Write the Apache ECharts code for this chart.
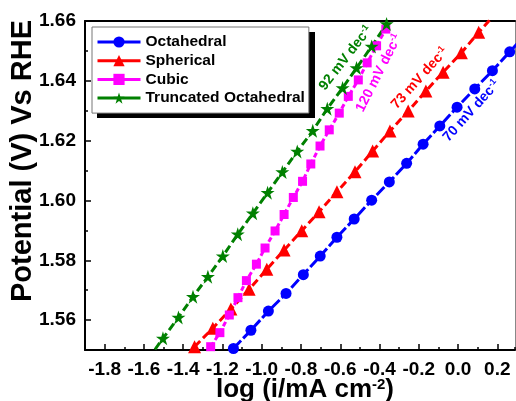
<!DOCTYPE html>
<html>
<head>
<meta charset="utf-8">
<script src="https://cdn.jsdelivr.net/npm/echarts@6/dist/echarts.min.js"></script>
<style>
  html, body { margin: 0; padding: 0; background: #fff; }
  #chart { width: 516px; height: 401px; }
</style>
</head>
<body>
<div id="chart"></div>
<script>
// Tafel plots, values (log i, potential in V)
const octX = [-1.144, -1.055, -0.966, -0.876, -0.788, -0.702, -0.617, -0.529, -0.440, -0.350, -0.262, -0.178, -0.093, -0.005, 0.085, 0.175, 0.263, 0.352]
const octY = [1.5505, 1.5566, 1.5630, 1.5689, 1.5752, 1.5814, 1.5877, 1.5938, 1.6001, 1.6062, 1.6124, 1.6188, 1.6249, 1.6312, 1.6373, 1.6434, 1.6497, 1.6560]

const sphX = [-1.342, -1.249, -1.157, -1.064, -0.974, -0.886, -0.796, -0.708, -0.617, -0.525, -0.435, -0.347, -0.254, -0.164, -0.076, 0.017, 0.105, 0.195]
const sphY = [1.5511, 1.5573, 1.5637, 1.5703, 1.5770, 1.5834, 1.5899, 1.5962, 1.6029, 1.6096, 1.6165, 1.6232, 1.6299, 1.6366, 1.6429, 1.6494, 1.6562, 1.6628]

const cubX = [-1.260, -1.213, -1.165, -1.121, -1.078, -1.027, -0.983, -0.932, -0.886, -0.839, -0.792, -0.750, -0.703, -0.656, -0.605, -0.559, -0.508, -0.463, -0.415, -0.368]
const cubY = [1.5511, 1.5558, 1.5617, 1.5675, 1.5732, 1.5787, 1.5841, 1.5898, 1.5953, 1.6010, 1.6064, 1.6122, 1.6182, 1.6236, 1.6292, 1.6348, 1.6403, 1.6460, 1.6517, 1.6573]

const truX = [-1.579, -1.503, -1.424, -1.350, -1.274, -1.198, -1.122, -1.045, -0.970, -0.895, -0.819, -0.740, -0.666, -0.588, -0.517, -0.440, -0.364]
const truY = [1.5469, 1.5539, 1.5609, 1.5678, 1.5745, 1.5814, 1.5887, 1.5957, 1.6026, 1.6095, 1.6164, 1.6233, 1.6307, 1.6376, 1.6443, 1.6515, 1.6590]

const seriesNames = ['Octahedral', 'Spherical', 'Cubic', 'Truncated Octahedral']

// tick labels
const xTicks = [-1.8, -1.6, -1.4, -1.2, -1.0, -0.8, -0.6, -0.4, -0.2, 0.0, 0.2]
const yTicks = [1.56, 1.58, 1.60, 1.62, 1.64, 1.66]

// slope notes: [value, x, y, angle, series index]
const slopeNotes = [
  ['92', -0.572, 1.6476, 52, 3],
  ['120', -0.403, 1.6426, 63, 2],
  ['73', -0.195, 1.6409, 48, 1],
  ['70', 0.068, 1.6299, 48, 0]
]

const colors = ['#0000FF', '#FF0000', '#FF00FF', '#008000']
const FONT = '"Liberation Sans", Arial, sans-serif'
const starPath = 'path://M50,0 L62,36 L100,36 L69,58 L81,95 L50,72 L19,95 L31,58 L0,36 L38,36 Z'

const zip = (xs, ys) => xs.map((x, i) => [x, ys[i]])

const lineSeries = (name, data, color, symbol, size, dash) => ({
  name,
  type: 'line',
  data,
  clip: true,
  symbol,
  symbolSize: size,
  color,
  itemStyle: { color },
  lineStyle: { color, width: 3, type: dash },
  emphasis: { disabled: true },
  z: 3
})

const chart = echarts.init(document.getElementById('chart'), null, { renderer: 'canvas' })

const xBase = { type: 'value', min: -1.9, max: 0.29, splitLine: { show: false } }
const yBase = { type: 'value', min: 1.55, max: 1.66, splitLine: { show: false } }
const tickFont = { color: '#000', fontFamily: FONT, fontWeight: 'bold', fontSize: 19 }
const noLine = { show: false, onZero: false }

chart.setOption({
  animation: false,
  backgroundColor: '#fff',
  grid: { left: 85, right: 1, top: 21, bottom: 51, containLabel: false, outerBoundsMode: 'none' },
  legend: {
    orient: 'vertical',
    left: 92,
    top: 27,
    data: seriesNames,
    itemWidth: 43,
    itemHeight: 14,
    itemGap: 2.7,
    padding: [7, 4, 7, 4],
    backgroundColor: '#fff',
    borderColor: '#777',
    borderWidth: 1,
    z: 5,
    lineStyle: { type: 'solid', width: 3 },
    textStyle: { color: '#000', fontFamily: FONT, fontWeight: 'bold', fontSize: 15.5, lineHeight: 14 }
  },
  xAxis: [
    {
      ...xBase,
      position: 'bottom',
      axisLine: { show: true, onZero: false, lineStyle: { color: '#000', width: 2 } },
      axisTick: { show: true, inside: true, length: 6, lineStyle: { color: '#000', width: 1.5 }, customValues: xTicks },
      axisLabel: { ...tickFont, margin: 10, customValues: xTicks, formatter: v => v.toFixed(1) },
      name: 'log (i/mA cm{sup|-2})',
      nameLocation: 'middle',
      nameMoveOverlap: false,
      nameGap: 27,
      nameTextStyle: {
        color: '#000', fontFamily: FONT, fontWeight: 'bold', fontSize: 26, verticalAlign: 'top', padding: [0, 0, 0, 10],
        rich: { sup: { color: '#000', fontFamily: FONT, fontWeight: 'bold', fontSize: 15, verticalAlign: 'top' } }
      }
    },
    {
      ...xBase,
      position: 'bottom',
      interval: 0.1,
      axisLine: noLine,
      axisTick: { show: true, inside: true, length: 3, lineStyle: { color: '#000', width: 1.5 } },
      axisLabel: { show: false }
    },
    {
      ...xBase,
      position: 'top',
      axisLine: { show: true, onZero: false, lineStyle: { color: '#000', width: 2 } },
      axisTick: { show: false },
      axisLabel: { show: false }
    }
  ],
  yAxis: [
    {
      ...yBase,
      position: 'left',
      axisLine: { show: true, onZero: false, lineStyle: { color: '#000', width: 2 } },
      axisTick: { show: true, inside: true, length: 6, lineStyle: { color: '#000', width: 1.5 }, customValues: yTicks },
      axisLabel: { ...tickFont, margin: 9, customValues: yTicks, formatter: v => v.toFixed(2) },
      name: 'Potential (V) Vs RHE',
      nameLocation: 'middle',
      nameMoveOverlap: false,
      nameGap: 48,
      nameTextStyle: { color: '#000', fontFamily: FONT, fontWeight: 'bold', fontSize: 29, padding: [0, 0, 0, 49] }
    },
    {
      ...yBase,
      position: 'left',
      interval: 0.01,
      axisLine: noLine,
      axisTick: { show: true, inside: true, length: 3, lineStyle: { color: '#000', width: 1.5 } },
      axisLabel: { show: false }
    },
    {
      ...yBase,
      position: 'right',
      axisLine: { show: true, onZero: false, lineStyle: { color: '#888', width: 1 } },
      axisTick: { show: false },
      axisLabel: { show: false }
    }
  ],
  series: [
    lineSeries(seriesNames[0], zip(octX, octY), colors[0], 'circle', 11, [11, 3]),
    lineSeries(seriesNames[1], zip(sphX, sphY), colors[1], 'triangle', 13, [8, 4]),
    lineSeries(seriesNames[2], zip(cubX, cubY), colors[2], 'rect', 9, [5, 3]),
    lineSeries(seriesNames[3], zip(truX, truY), colors[3], starPath, 14, [8, 4])
  ]
})

// black drop shadow behind the legend box
const legendShadow = {
  type: 'rect',
  z: 4,
  shape: { x: 97, y: 32, width: 218, height: 86 },
  style: { fill: '#000' }
}

// rotated slope notes, placed through the chart's own scales
const notes = slopeNotes.map(([val, x, y, angle, si]) => {
  const [px, py] = chart.convertToPixel({ xAxisIndex: 0, yAxisIndex: 0 }, [x, y])
  return {
    type: 'text',
    x: px,
    y: py,
    rotation: angle * Math.PI / 180,
    z: 10,
    style: {
      text: val + ' mV dec{sup|-1}',
      fill: colors[si],
      fontFamily: FONT,
      fontWeight: 'bold',
      fontSize: 14,
      lineHeight: 16,
      align: 'center',
      verticalAlign: 'middle',
      rich: { sup: { fill: colors[si], fontFamily: FONT, fontWeight: 'bold', fontSize: 9, verticalAlign: 'top' } }
    }
  }
})
chart.setOption({ graphic: [legendShadow, ...notes] })
</script>
</body>
</html>
